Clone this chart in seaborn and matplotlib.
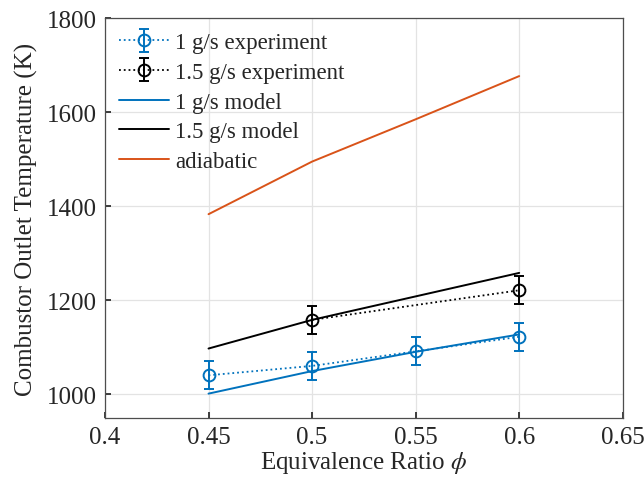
import numpy as np
import pandas as pd
import matplotlib
matplotlib.use('Agg')
import matplotlib.pyplot as plt
import seaborn as sns

# data
phi = [0.45, 0.5, 0.55, 0.6]
exp_1gs = [1040, 1060, 1091, 1122]
err_1gs = [30, 30, 30, 30]
phi_15 = [0.5, 0.6]
exp_15gs = [1158, 1221]
err_15gs = [30, 30]
model_1gs = [1001, 1049, 1090, 1127]
model_15gs = [1097, 1158, 1208, 1258]
adiabatic = [1383, 1495, 1585, 1677]

blue = '#0072BD'
orange = '#D95319'
dark = '#262626'

sns.set_theme(style='whitegrid')
plt.rcParams['font.family'] = ['Liberation Serif', 'DejaVu Serif']
plt.rcParams['mathtext.fontset'] = 'stix'

fig = plt.figure(figsize=(6.44, 4.89), dpi=100)
ax = fig.add_axes([0.163, 0.144, 0.804, 0.8165])

h1 = ax.errorbar(phi, exp_1gs, yerr=err_1gs, color=blue, ls=':', lw=1.3, marker='o',
                 ms=8.5, mfc='none', mew=1.4, capsize=3.5, elinewidth=1.4, capthick=1.4,
                 label='1 g/s experiment')
h2 = ax.errorbar(phi_15, exp_15gs, yerr=err_15gs, color='black', ls=':', lw=1.3, marker='o',
                 ms=8.5, mfc='none', mew=1.4, capsize=3.5, elinewidth=1.4, capthick=1.4,
                 label='1.5 g/s experiment')
sns.lineplot(x=phi, y=model_1gs, ax=ax, color=blue, lw=1.4, label='1 g/s model')
sns.lineplot(x=phi, y=model_15gs, ax=ax, color='black', lw=1.4, label='1.5 g/s model')
sns.lineplot(x=phi, y=adiabatic, ax=ax, color=orange, lw=1.4, label='adiabatic')

ax.set_xlim(0.4, 0.65)
ax.set_ylim(950, 1800)
ax.set_xticks([0.4, 0.45, 0.5, 0.55, 0.6, 0.65])
ax.set_xticklabels(['0.4', '0.45', '0.5', '0.55', '0.6', '0.65'])
ax.set_yticks([1000, 1200, 1400, 1600, 1800])
ax.tick_params(labelsize=18, colors=dark, length=4, direction='in',
               bottom=True, left=True, pad=6)
ax.set_facecolor('white')
ax.grid(True, color='#e3e3e3', lw=0.9)
for s in ax.spines.values():
    s.set_color('#4d4d4d')
    s.set_linewidth(0.9)

ax.set_xlabel(r'Equivalence Ratio $\phi$', fontsize=18, color=dark, labelpad=1)
ax.set_ylabel('Combustor Outlet Temperature (K)', fontsize=18, color=dark, labelpad=6)

handles, labels = ax.get_legend_handles_labels()
order = ['1 g/s experiment', '1.5 g/s experiment', '1 g/s model', '1.5 g/s model', 'adiabatic']
hmap = dict(zip(labels, handles))
ax.legend([hmap[k] for k in order], order, loc='upper left', fontsize=16.5,
          frameon=False, handlelength=2.2, handletextpad=0.25,
          labelspacing=0.38, borderaxespad=0.3, borderpad=0.3)

fig.savefig('out.png', dpi=100)
